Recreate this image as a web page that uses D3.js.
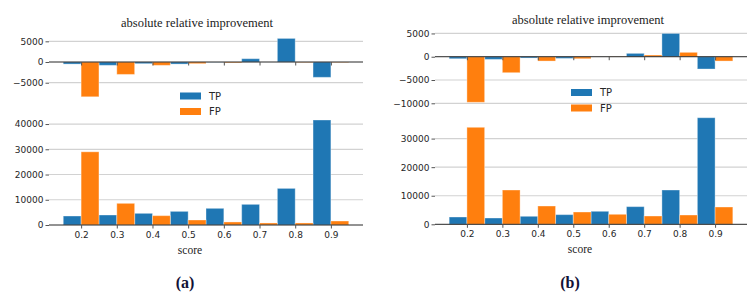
<!DOCTYPE html>
<html>
<head>
<meta charset="utf-8">
<script src="https://cdn.jsdelivr.net/npm/d3@7"></script>
<style>
  body { margin: 0; background: white; }
  svg { display: block; }
</style>
</head>
<body>
<div id="chart"></div>
<script>
// score bins
var scores = [0.2, 0.3, 0.4, 0.5, 0.6, 0.7, 0.8, 0.9];

// panel (a)
var aTopTP = [-500, -800, -400, -500, -50, 800, 5700, -3700];
var aTopFP = [-8400, -3000, -800, -400, -200, 0, -100, -100];
var aBotTP = [3560, 3960, 4620, 5400, 6600, 8180, 14500, 41600];
var aBotFP = [29000, 8580, 3700, 1980, 1200, 800, 800, 1580];

// panel (b)
var bTopTP = [-430, -570, -280, -360, 0, 720, 5000, -2640];
var bTopFP = [-9790, -3430, -930, -430, -50, 360, 940, -930];
var bBotTP = [2550, 2200, 2800, 3380, 4550, 6180, 12000, 37300];
var bBotFP = [33950, 12000, 6400, 4300, 3500, 2900, 3250, 6050];

var aTopTicks = [-5000, 0, 5000];
var aBotTicks = [0, 10000, 20000, 30000, 40000];
var bTopTicks = [-10000, -5000, 0, 5000];
var bBotTicks = [0, 10000, 20000, 30000];

var seriesNames = ["TP", "FP"];
var color = d3.scaleOrdinal().domain(seriesNames).range(["#1f77b4", "#ff7f0e"]);
var barW = 0.05;

var svg = d3.select("#chart").append("svg")
    .attr("width", 755)
    .attr("height", 294)
    .style("background-color", "white");

var fmt = function(d) { return d < 0 ? "\u2212" + Math.abs(d) : String(d); };

function subplot(g, x, y, ticks, tp, fp, showX) {
  var x0 = x.range()[0], x1 = x.range()[1];

  // grid lines
  g.selectAll(".grid")
    .data(ticks.filter(function(d) { return d !== 0; }))
    .enter().append("line")
      .attr("x1", x0).attr("x2", x1)
      .attr("y1", function(d) { return y(d); })
      .attr("y2", function(d) { return y(d); })
      .style("stroke", "#d2d2d2")
      .style("stroke-width", 1.2);

  // bars
  var rows = scores.map(function(s, i) { return {s: s, TP: tp[i], FP: fp[i]}; });
  seriesNames.forEach(function(key, k) {
    g.selectAll(".bar" + key)
      .data(rows)
      .enter().append("rect")
        .attr("x", function(d) { return x(d.s - barW + k * barW); })
        .attr("width", function(d) { return x(d.s + k * barW) - x(d.s - barW + k * barW); })
        .attr("y", function(d) { return y(Math.max(0, d[key])); })
        .attr("height", function(d) { return Math.abs(y(d[key]) - y(0)); })
        .attr("fill", color(key))
        .style("stroke", "white")
        .style("stroke-opacity", 0.35)
        .style("stroke-width", 1);
  });

  // zero line
  g.append("line")
    .attr("x1", x0).attr("x2", x1)
    .attr("y1", y(0)).attr("y2", y(0))
    .style("stroke", "#262626")
    .style("stroke-width", 1);

  // y ticks
  var yt = g.append("g")
    .attr("transform", "translate(" + x0 + ",0)")
    .call(d3.axisLeft(y).tickValues(ticks).tickFormat(fmt).tickSize(3.5).tickPadding(2));
  yt.select(".domain").remove();
  yt.selectAll("line").style("stroke", "#555");
  yt.selectAll("text").style("font-family", "DejaVu Sans").style("font-size", "9px").style("fill", "#262626");

  // x ticks
  var xt = g.append("g")
    .attr("transform", "translate(0," + y(0) + ")")
    .call(d3.axisBottom(x).tickValues(scores).tickFormat(d3.format(".1f")).tickSize(3.5).tickPadding(3));
  xt.select(".domain").remove();
  xt.selectAll("line").style("stroke", "#555");
  xt.selectAll("text").style("font-family", "DejaVu Sans").style("font-size", "9px").style("fill", "#262626");
  if (!showX) xt.selectAll("text").remove();
}

function panel(cfg) {
  var g = svg.append("g");
  var x = d3.scaleLinear().domain([0.11, 0.99]).range(cfg.xr);
  var yTop = d3.scaleLinear().domain(cfg.topDom).range(cfg.topR);
  var yBot = d3.scaleLinear().domain(cfg.botDom).range(cfg.botR);

  subplot(g.append("g"), x, yTop, cfg.topTicks, cfg.topTP, cfg.topFP, false);
  subplot(g.append("g"), x, yBot, cfg.botTicks, cfg.botTP, cfg.botFP, true);

  g.append("text")
    .attr("x", cfg.titleX).attr("y", cfg.titleY)
    .attr("text-anchor", "middle")
    .style("font-family", "Liberation Serif")
    .style("font-size", "12.5px")
    .style("fill", "#222")
    .text("absolute relative improvement");

  g.append("text")
    .attr("x", cfg.scoreX).attr("y", cfg.scoreY)
    .attr("text-anchor", "middle")
    .style("font-family", "Liberation Serif")
    .style("font-size", "11.5px")
    .style("fill", "#222")
    .text("score");

  g.append("text")
    .attr("x", cfg.capX).attr("y", 288)
    .attr("text-anchor", "middle")
    .style("font-family", "Liberation Serif")
    .style("font-weight", "bold")
    .style("font-size", "16px")
    .style("fill", "#121236")
    .text(cfg.cap);

  // legend
  var lg = g.append("g").attr("transform", "translate(" + cfg.legX + "," + cfg.legY + ")");
  seriesNames.forEach(function(key, i) {
    lg.append("rect")
      .attr("x", 0).attr("y", i * 15.5)
      .attr("width", 21).attr("height", 7)
      .attr("fill", color(key));
    lg.append("text")
      .attr("x", 29).attr("y", i * 15.5 + 3.5)
      .attr("dominant-baseline", "central")
      .style("font-family", "DejaVu Sans")
      .style("font-size", "10px")
      .style("fill", "#262626")
      .text(key);
  });
}

panel({
  xr: [49, 363],
  topDom: [-9105, 6430], topR: [99.7, 35.4],
  botDom: [0, 43700], botR: [225, 114.7],
  topTicks: aTopTicks, botTicks: aBotTicks,
  topTP: aTopTP, topFP: aTopFP, botTP: aBotTP, botFP: aBotFP,
  titleX: 197, titleY: 27, scoreX: 190, scoreY: 254, capX: 185, cap: "(a)",
  legX: 180, legY: 92.5
});

panel({
  xr: [435, 747],
  topDom: [-10540, 5740], topR: [105.8, 30],
  botDom: [0, 39200], botR: [224.3, 112.3],
  topTicks: bTopTicks, botTicks: bBotTicks,
  topTP: bTopTP, topFP: bTopFP, botTP: bBotTP, botFP: bBotFP,
  titleX: 588, titleY: 23.5, scoreX: 580, scoreY: 253, capX: 570, cap: "(b)",
  legX: 571, legY: 89
});
</script>
</body>
</html>
